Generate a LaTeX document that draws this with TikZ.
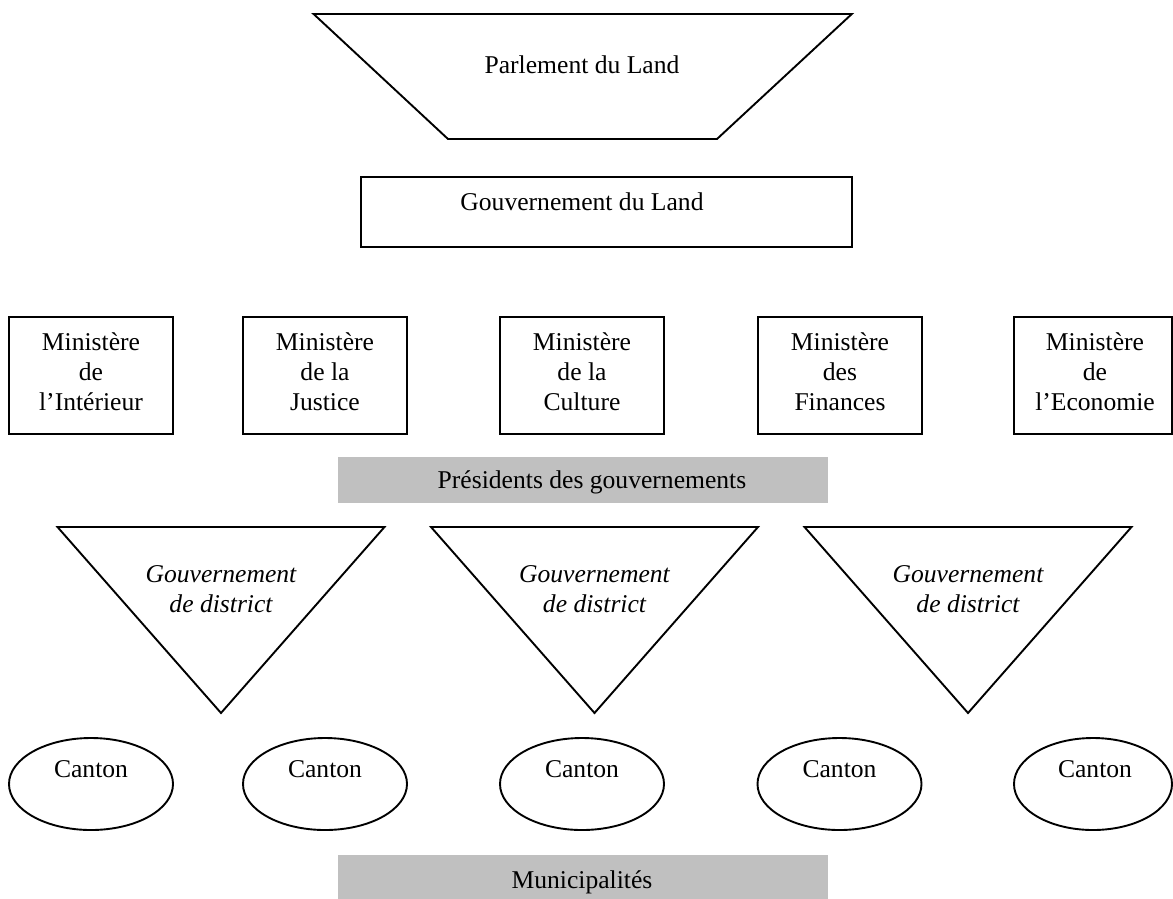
\documentclass[tikz,border=0pt]{standalone}
\usepackage{fontspec}
\setmainfont{Liberation Serif}
\usetikzlibrary{shapes.geometric}
\definecolor{barfill}{RGB}{192,192,192}
\begin{document}
\begin{tikzpicture}[x=1pt,y=-1pt,
  outline/.style={draw=black,line width=1.9pt,line join=miter},
  txt/.style={inner sep=0pt,anchor=base,align=center,
    font=\fontsize{25.6}{29.6}\selectfont},
  mbox/.style={outline,rectangle,inner sep=0pt,
    minimum width=164pt,minimum height=117pt},
  canton/.style={outline,ellipse,inner sep=0pt,
    minimum width=164pt,minimum height=92pt},
  greybar/.style={fill=barfill,draw=none,rectangle,inner sep=0pt,
    minimum width=490pt}
]
\useasboundingbox (0,0) rectangle (1173,898);

% Parlement du Land (trapezoid)
\draw[outline] (313.6,14) -- (851.8,14) -- (717,139) -- (448,139) -- cycle;
\node[txt] (parl) at (582,73) {Parlement du Land};

% Gouvernement du Land
\node[outline,rectangle,inner sep=0pt,minimum width=491pt,minimum height=70pt]
  (gouv) at (606.5,212) {};
\node[txt] (gouvt) at (582,210.7) {Gouvernement du Land};

% Ministries (the base anchor of a multi-line node sits on its last line)
\node[mbox] (m1) at (91,375.5) {};
\node[mbox] (m2) at (325,375.5) {};
\node[mbox] (m3) at (582,375.5) {};
\node[mbox] (m4) at (840,375.5) {};
\node[outline,rectangle,inner sep=0pt,minimum width=158pt,minimum height=117pt]
  (m5) at (1093,375.5) {};
\node[txt] (m1t) at (91,410) {Ministère\\de\\l’Intérieur};
\node[txt] (m2t) at (325,410) {Ministère\\de la\\Justice};
\node[txt] (m3t) at (582,410) {Ministère\\de la\\Culture};
\node[txt] (m4t) at (840,410) {Ministère\\des\\Finances};
\node[txt] (m5t) at (1095,410) {Ministère\\de\\l’Economie};

% Présidents des gouvernements
\node[greybar,minimum height=46pt] (pres) at (583,480) {};
\node[txt] (prest) at (592,488) {Présidents des gouvernements};

% District governments (inverted triangles)
\foreach \cx/\n in {221/1,594.5/2,968/3}{
  \draw[outline] (\cx-163.5,527) -- (\cx+163.5,527) -- (\cx,713) -- cycle;
  \node[txt,font=\fontsize{25.6}{29.8}\selectfont\itshape] (d\n) at (\cx,612)
    {Gouvernement\\de district};
}

% Cantons
\foreach \cx/\n in {91/1,325/2,582/3,839.5/4}{
  \node[canton] (c\n) at (\cx,784) {};
  \node[txt] (c\n t) at (\cx,777) {Canton};
}
\node[canton,minimum width=158pt] (c5) at (1093,784) {};
\node[txt] (c5t) at (1095,777) {Canton};

% Municipalités
\node[greybar,minimum height=44pt] (mun) at (583,877) {};
\node[txt] (munt) at (582,888) {Municipalités};
\end{tikzpicture}
\end{document}
